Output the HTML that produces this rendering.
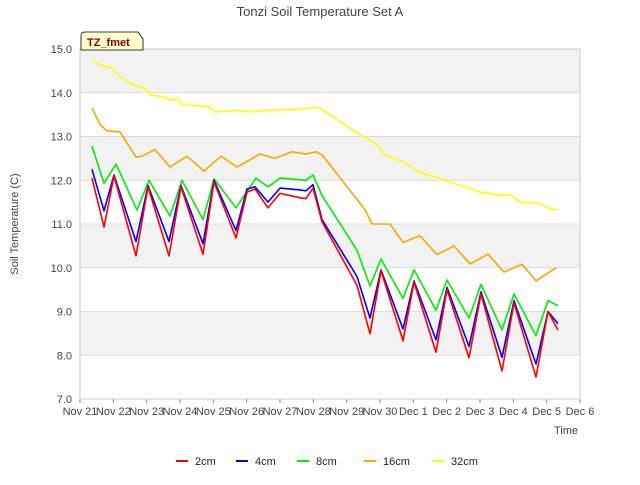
<!DOCTYPE html>
<html><head><meta charset="utf-8"><style>
body{margin:0;background:#fff;font-family:"Liberation Sans",sans-serif}
svg text{font-family:"Liberation Sans",sans-serif}
</style></head><body>
<svg id="c" width="640" height="480"></svg>
<script>
const tickLabels=["Nov 21","Nov 22","Nov 23","Nov 24","Nov 25","Nov 26","Nov 27","Nov 28","Nov 29","Nov 30","Dec 1","Dec 2","Dec 3","Dec 4","Dec 5","Dec 6"];
const yTicks=[7,8,9,10,11,12,13,14,15];
const seriesNames=["2cm","4cm","8cm","16cm","32cm"];
const seriesColors=["#ff0000","#0000ff","#00ee00","#ffa500","#ffff00"];
const d2cm=[.36,.72,1.02,1.68,2.04,2.67,3.03,3.69,4.02,4.68,5.01,5.25,5.64,6.0,6.6,6.78,6.99,7.26,8.31,8.7,9.03,9.69,10.02,10.68,11.01,11.67,12.03,12.66,13.02,13.68,14.04,14.34];
const v2cm=[12.05,10.93,12.1,10.27,11.85,10.27,11.85,10.31,11.96,10.68,11.73,11.8,11.37,11.7,11.6,11.58,11.82,11.05,9.6,8.49,9.93,8.33,9.67,8.07,9.5,7.94,9.4,7.64,9.2,7.5,9.0,8.58];
const v4cm=[12.25,11.3,12.12,10.6,11.88,10.6,11.88,10.55,12.0,10.85,11.8,11.85,11.5,11.82,11.78,11.76,11.9,11.1,9.8,8.85,9.95,8.6,9.7,8.35,9.55,8.2,9.45,7.95,9.25,7.8,9.0,8.72];
const d8cm=[.36,.72,1.08,1.71,2.07,2.7,3.06,3.69,4.02,4.68,5.28,5.64,6.0,6.78,6.99,7.26,8.31,8.7,9.03,9.69,10.02,10.68,11.01,11.67,12.03,12.66,13.02,13.68,14.04,14.34];
const v8cm=[12.78,11.93,12.37,11.32,12.0,11.18,12.0,11.1,12.03,11.37,12.05,11.85,12.05,12.0,12.12,11.65,10.4,9.58,10.2,9.3,9.95,9.03,9.72,8.85,9.62,8.58,9.4,8.45,9.25,9.13];
const d16cm=[.36,.6,.81,1.2,1.68,1.86,2.25,2.7,3.21,3.72,4.23,4.71,5.4,5.85,6.36,6.78,7.08,7.26,8.55,8.76,9.3,9.69,10.2,10.71,11.22,11.7,12.24,12.72,13.26,13.68,14.28];
const v16cm=[13.65,13.28,13.13,13.1,12.53,12.55,12.7,12.3,12.55,12.21,12.55,12.3,12.6,12.5,12.65,12.6,12.65,12.58,11.33,11.0,11.0,10.58,10.73,10.3,10.5,10.09,10.31,9.9,10.08,9.7,10.0];
const d32cm=[.36,.6,.96,1.14,1.59,1.95,2.1,2.55,2.7,2.94,3.09,3.6,3.9,4.05,4.8,5.1,5.55,6.6,7.11,7.29,8.49,8.85,9.15,9.6,9.75,10.2,10.8,11.16,11.7,12.0,12.6,12.9,13.2,13.8,14.1,14.34];
const v32cm=[14.77,14.63,14.57,14.4,14.18,14.1,13.95,13.9,13.83,13.87,13.72,13.7,13.67,13.56,13.6,13.56,13.6,13.62,13.67,13.6,13.0,12.85,12.58,12.44,12.4,12.17,12.05,11.94,11.82,11.73,11.65,11.67,11.5,11.47,11.35,11.32];
const seriesDays=[d2cm,d2cm,d8cm,d16cm,d32cm];
const seriesVals=[v2cm,v4cm,v8cm,v16cm,v32cm];

const NS="http://www.w3.org/2000/svg",svg=document.getElementById('c');
const L=80,R=580,T=49,B=399;
const xs=d=>L+(R-L)*d/15, ys=v=>B-(B-T)*(v-7)/8;
function mk(tag,attrs,parent,text){const e=document.createElementNS(NS,tag);for(const k in attrs)e.setAttribute(k,attrs[k]);if(text!=null)e.textContent=text;(parent||svg).appendChild(e);return e;}
// bands
for(let i=0;i<8;i++){
  if(i%2===0){const b=mk('rect',{x:L,y:ys(15-i),width:R-L,height:ys(14-i)-ys(15-i),fill:'#f2f2f2'});
  
  }
}
yTicks.forEach(v=>{
  const g=mk('line',{x1:L,x2:R,y1:ys(v),y2:ys(v),stroke:'#dddddd','stroke-width':1});
  
  
  const t=mk('text',{x:L-8,y:ys(v)+4,'text-anchor':'end','font-size':11,fill:'#444'},null,v.toFixed(1));
  
  
});
tickLabels.forEach((s,i)=>{
  mk('line',{x1:xs(i),x2:xs(i),y1:B,y2:B+4,stroke:'#888'});
  const t=mk('text',{x:xs(i),y:B+16,'text-anchor':'middle','font-size':11,fill:'#444'},null,s);
  
  
});
const fr=mk('rect',{x:L,y:T,width:R-L,height:B-T,fill:'none',stroke:'#cccccc'});


// series
for(let s=4;s>=0;s--){
  const pts=seriesDays[s].map((d,i)=>xs(d).toFixed(1)+','+ys(seriesVals[s][i]).toFixed(1)).join(' ');
  const p=mk('polyline',{points:pts,fill:'none',stroke:seriesColors[s],'stroke-width':1.6,'stroke-linejoin':'round'});
  
  
}
const ti=mk('text',{x:320,y:16,'text-anchor':'middle','font-size':13,fill:'#444'},null,'Tonzi Soil Temperature Set A');


const yl=mk('text',{x:18,y:224,'text-anchor':'middle','font-size':11,fill:'#444',transform:'rotate(-90 18 224)'},null,'Soil Temperature (C)');


const xl=mk('text',{x:578,y:434,'text-anchor':'end','font-size':11,fill:'#444'},null,'Time');


const bx=mk('path',{d:'M81,50 L81,36 Q81,32 85,32 L138,32 L143,39 L143,50 Z',fill:'#ffffcc',stroke:'#000','stroke-width':0.8});


const bt=mk('text',{x:87,y:46,'font-size':11,'font-weight':'bold',fill:'#8b0000'},null,'TZ_fmet');


const lx=[176,236,297,364,432];
seriesNames.forEach((n,i)=>{
  const g=mk('g',{});
  
  
  mk('line',{x1:lx[i],x2:lx[i]+12,y1:461,y2:461,stroke:seriesColors[i],'stroke-width':2},g);
  mk('text',{x:lx[i]+19,y:465,'font-size':11,fill:'#222'},g,n);
});
</script>
</body></html>
